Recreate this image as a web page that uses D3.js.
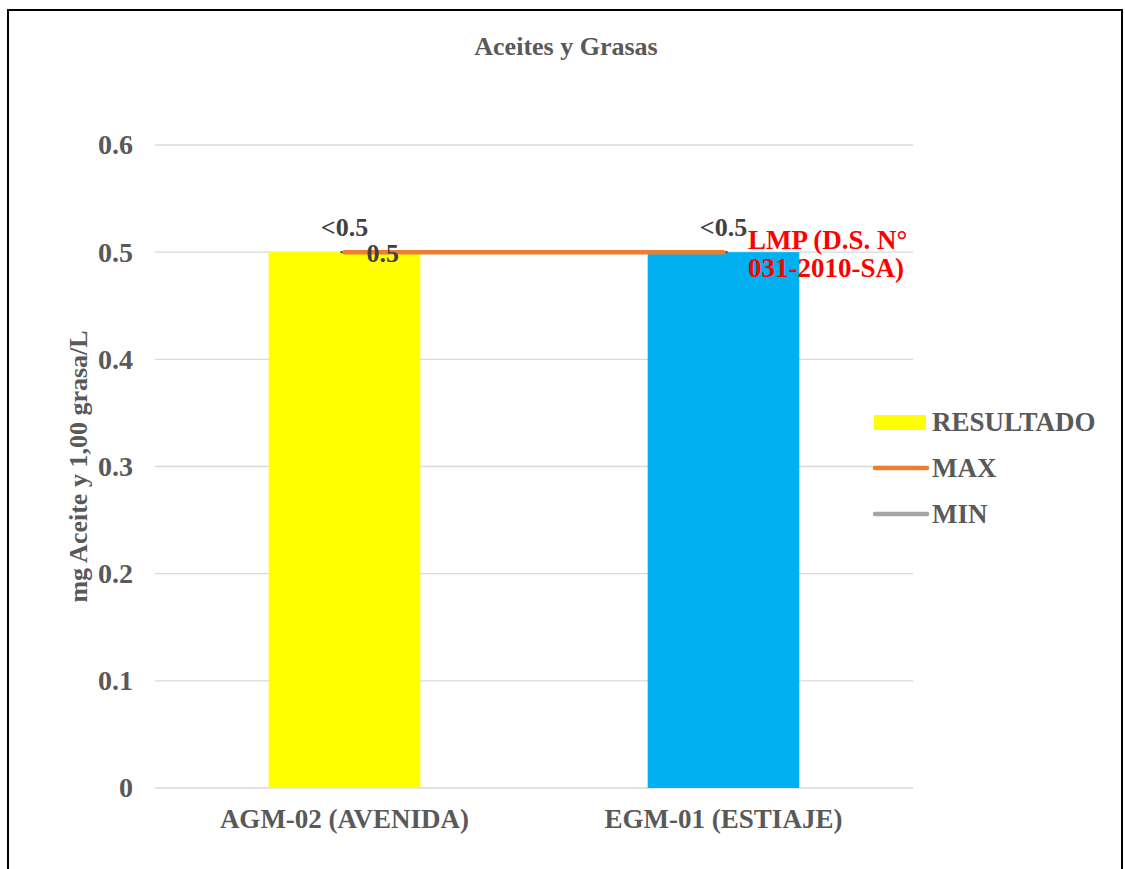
<!DOCTYPE html>
<html><head><meta charset="utf-8">
<script src="https://cdn.jsdelivr.net/npm/d3@7"></script>
<style>body{margin:0;background:#fff;}svg{display:block;font-family:"Liberation Serif","Times New Roman",serif;}</style>
</head><body>
<script>
const categories = ["AGM-02 (AVENIDA)", "EGM-01 (ESTIAJE)"];
const resultado = [0.5, 0.5];
const resultadoLabels = ["<0.5", "<0.5"];
const barColors = ["#FFFF00", "#00B0F0"];
const maxValues = [0.5, 0.5];
const minValues = [null, null];
const yTicks = [0, 0.1, 0.2, 0.3, 0.4, 0.5, 0.6];
const legendItems = ["RESULTADO", "MAX", "MIN"];

(function () {
const W = 1125, H = 869;
const svg = d3.select("body").append("svg").attr("width", W).attr("height", H);
svg.append("rect").attr("x", 8).attr("y", 10).attr("width", 1114).attr("height", 880)
  .attr("fill", "#fff").attr("stroke", "#000").attr("stroke-width", 2);

const pLeft = 155, pRight = 913, pTop = 145, pBottom = 788;
const x = d3.scaleBand().domain(categories).range([pLeft, pRight]).paddingInner(0.6).paddingOuter(0.3);
const y = d3.scaleLinear().domain([0, 0.6]).range([pBottom, pTop]);

// gridlines
svg.append("g").selectAll("line").data(yTicks).join("line")
  .attr("x1", pLeft).attr("x2", pRight).attr("y1", d => y(d)).attr("y2", d => y(d))
  .attr("stroke", "#d9d9d9").attr("stroke-width", 1.3);

// y axis labels
const yAxis = d3.axisLeft(y).tickValues(yTicks).tickFormat(d => d === 0 ? "0" : d3.format(".1f")(d)).tickSize(0).tickPadding(22);
const ga = svg.append("g").attr("transform", `translate(${pLeft},0)`).call(yAxis);
ga.select(".domain").remove();
ga.selectAll("text").attr("font-family", "Liberation Serif").attr("font-size", 28).attr("font-weight", "bold").attr("fill", "#595959");

// x axis labels
const xAxis = d3.axisBottom(x).tickSize(0).tickPadding(21);
const gx = svg.append("g").attr("transform", `translate(0,${pBottom})`).call(xAxis);
gx.select(".domain").remove();
gx.selectAll("text").attr("font-family", "Liberation Serif").attr("font-size", 27).attr("font-weight", "bold").attr("fill", "#595959");

// bars
svg.append("g").selectAll("rect").data(categories).join("rect")
  .attr("x", d => x(d)).attr("width", x.bandwidth())
  .attr("y", (d, i) => y(resultado[i])).attr("height", (d, i) => pBottom - y(resultado[i]))
  .attr("fill", (d, i) => barColors[i]);

// MAX line
const cx = d => x(d) + x.bandwidth() / 2;
const line = d3.line().x((d, i) => cx(categories[i])).y(d => y(d));
svg.append("path").datum(maxValues).attr("d", line).attr("fill", "none")
  .attr("stroke", "#ED7D31").attr("stroke-width", 4.5).attr("stroke-linecap", "round");
// small markers at ends
svg.append("g").selectAll("rect").data(categories).join("rect")
  .attr("x", (d, i) => cx(d) + (i === 0 ? -4 : 2)).attr("y", y(0.5) - 1).attr("width", 2).attr("height", 2).attr("fill", "#404040");

// data labels
svg.append("g").selectAll("text").data(categories).join("text")
  .attr("x", d => cx(d)).attr("y", (d, i) => y(resultado[i]) - 16)
  .attr("text-anchor", "middle").attr("font-size", 26).attr("font-weight", "bold").attr("fill", "#404040")
  .text((d, i) => resultadoLabels[i]);
svg.append("text").attr("x", cx(categories[0]) + 22).attr("y", y(maxValues[0]) + 10)
  .attr("font-size", 26).attr("font-weight", "bold").attr("fill", "#404040").text("0.5");

// LMP label
const lmp = svg.append("text").attr("font-size", 27).attr("font-weight", "bold").attr("fill", "#FF0000");
lmp.append("tspan").attr("x", 748).attr("y", y(0.5) - 3).text("LMP (D.S. N°");
lmp.append("tspan").attr("x", 748).attr("y", y(0.5) + 25).text("031-2010-SA)");

// title
svg.append("text").attr("x", 566).attr("y", 55).attr("text-anchor", "middle")
  .attr("font-size", 26).attr("font-weight", "bold").attr("fill", "#595959").text("Aceites y Grasas");

// y title
svg.append("text").attr("transform", `translate(87,${(pTop + pBottom) / 2}) rotate(-90)`)
  .attr("text-anchor", "middle").attr("font-size", 26).attr("font-weight", "bold").attr("fill", "#595959")
  .text("mg Aceite y 1,00 grasa/L");

// legend
const lg = svg.append("g");
const ly = [422, 468, 514];
lg.append("rect").attr("x", 874).attr("y", ly[0] - 7).attr("width", 52).attr("height", 15).attr("fill", "#FFFF00");
lg.append("line").attr("x1", 875).attr("x2", 927).attr("y1", ly[1]).attr("y2", ly[1]).attr("stroke", "#ED7D31").attr("stroke-width", 4.5).attr("stroke-linecap", "round");
lg.append("line").attr("x1", 875).attr("x2", 927).attr("y1", ly[2]).attr("y2", ly[2]).attr("stroke", "#A5A5A5").attr("stroke-width", 4.5).attr("stroke-linecap", "round");
lg.selectAll("text").data(legendItems).join("text")
  .attr("x", 932).attr("y", (d, i) => ly[i] + 9).attr("font-size", 27).attr("font-weight", "bold").attr("fill", "#595959").text(d => d);
})();
</script>
</body></html>
